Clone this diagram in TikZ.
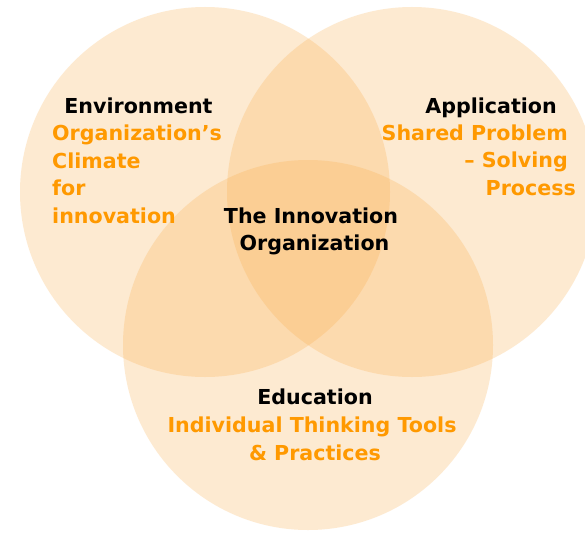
\documentclass[tikz,border=0pt]{standalone}
\usepackage{fontspec}
\setmainfont{DejaVu Sans}
\definecolor{circfill}{HTML}{FBAC48}
\definecolor{orangetext}{HTML}{FF9900}
\tikzset{
  venn/.style={circle, draw=none, fill=circfill, fill opacity=0.25, minimum size=370pt, inner sep=0pt},
  lbl/.style={inner sep=0pt, font=\fontsize{20.6}{27}\selectfont\bfseries},
  title/.style={lbl, text=black},
  sub/.style={lbl, text=orangetext},
}
\begin{document}
\begin{tikzpicture}[x=1pt,y=-1pt]
\useasboundingbox (0,0) rectangle (585,535);
\fill[white] (0,0) rectangle (585,535);
\node[venn] (envc) at (205,192) {};
\node[venn] (appc) at (412,192) {};
\node[venn] (educ) at (308,345) {};

\node[title, anchor=base] (envt) at (138.5,113) {Environment};
\node[sub, anchor=base west] (env1) at (52,140) {Organization’s};
\node[sub, anchor=base west] (env2) at (52,168) {Climate};
\node[sub, anchor=base west] (env3) at (52,195) {for};
\node[sub, anchor=base west] (env4) at (52,223) {innovation};

\node[title, anchor=base] (appt) at (491,113) {Application};
\node[sub, anchor=base east] (app1) at (568,140) {Shared Problem};
\node[sub, anchor=base east] (app2) at (568,167) {– Solving};
\node[sub, anchor=base east] (app3) at (576,195) {Process};

\node[title, anchor=base] (inn1) at (311,223) {The Innovation};
\node[title, anchor=base] (inn2) at (314.5,250) {Organization};

\node[title, anchor=base] (edut) at (315,404) {Education};
\node[sub, anchor=base] (edu1) at (312,432) {Individual Thinking Tools};
\node[sub, anchor=base] (edu2) at (315,460) {\& Practices};
\end{tikzpicture}
\end{document}
